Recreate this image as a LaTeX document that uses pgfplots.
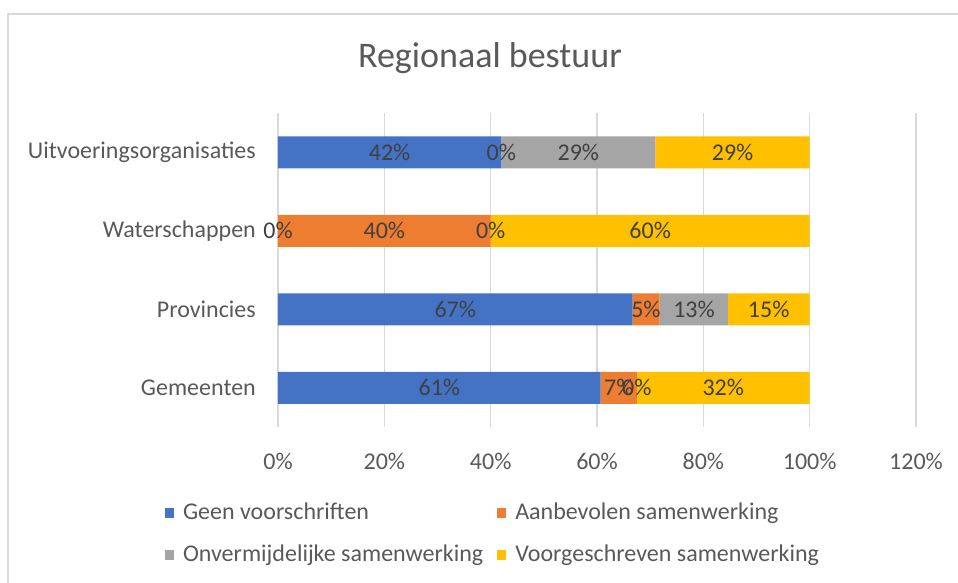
\documentclass[border=0pt]{standalone}
\usepackage{pgfplots}
\pgfplotsset{compat=1.18}
\usepackage{fontspec}
\setmainfont{Carlito}
\definecolor{cblue}{HTML}{4472C4}
\definecolor{corange}{HTML}{ED7D31}
\definecolor{cgray}{HTML}{A5A5A5}
\definecolor{cyellow}{HTML}{FFC000}
\definecolor{gridgray}{HTML}{D9D9D9}
\definecolor{txtgray}{HTML}{595959}
\definecolor{lblgray}{HTML}{404040}
\newcommand{\lf}{\fontsize{24bp}{28bp}\selectfont}
\pgfplotsset{
  mybar/.style={fill=#1, draw=none,
    legend image code/.code={\fill[#1] (0bp,-5bp) rectangle (9bp,5bp);}},
  geom/.style={
    scale only axis, width=638bp, height=314bp,
    xmin=0, xmax=120, ymin=-0.5, ymax=3.5,
  }
}
\begin{document}
\begin{tikzpicture}
\useasboundingbox (-278bp,-156bp) rectangle (680bp,427bp);
\draw[color=gridgray, line width=2bp] (-270bp,-170bp) -- (-270bp,413bp) -- (700bp,413bp);
\node[anchor=base, text=txtgray, inner sep=0pt, font=\fontsize{36bp}{40bp}\selectfont] at (212bp,359bp) {Regionaal bestuur};
\begin{axis}[geom,
  xbar stacked, bar width=32bp,
  axis line style={draw=none}, tick style={draw=none},
  major tick length=0pt,
  xmajorgrids, grid style={gridgray, line width=1.5bp},
  xtick={0,20,40,60,80,100,120},
  xticklabels={0\%,20\%,40\%,60\%,80\%,100\%,120\%},
  ytick={0,1,2,3},
  yticklabels={Gemeenten,Provincies,Waterschappen,Uitvoeringsorganisaties},
  tick label style={font=\lf, text=txtgray, inner sep=0pt},
  xticklabel style={anchor=base, yshift=-42bp},
  yticklabel style={anchor=east, xshift=-22bp},
  legend columns=2,
  legend cell align=left,
  legend style={at={(axis description cs:-0.1771,-0.2357)}, anchor=north west,
    draw=none, fill=none, inner sep=0pt, outer sep=0pt, font=\lf, text=txtgray,
    row sep=18bp,
    nodes={inner sep=0pt, text height=18bp, text depth=6bp},
    /tikz/every odd column/.append style={column sep=9bp},
    /tikz/every even column/.append style={column sep=14bp}},
]
\addplot[mybar=cblue] coordinates {(60.7,0) (66.7,1) (0,2) (42,3)};
\addlegendentry{Geen voorschriften}
\addplot[mybar=corange] coordinates {(6.8,0) (5.1,1) (40,2) (0,3)};
\addlegendentry{Aanbevolen samenwerking}
\addplot[mybar=cgray] coordinates {(0,0) (12.8,1) (0,2) (29,3)};
\addlegendentry{Onvermijdelijke samenwerking}
\addplot[mybar=cyellow] coordinates {(32.5,0) (15.4,1) (60,2) (29,3)};
\addlegendentry{Voorgeschreven samenwerking}
\end{axis}
\begin{axis}[geom, hide axis]
\addplot[draw=none, mark=none, nodes near coords, point meta=explicit symbolic,
  every node near coord/.append style={anchor=center, font=\lf, text=lblgray, inner sep=0pt}]
  coordinates {
  (30.35,0) [61\%] (64.1,0) [7\%] (67.5,0) [0\%] (83.75,0) [32\%]
  (33.35,1) [67\%] (69.2,1) [5\%] (78.25,1) [13\%] (92.3,1) [15\%]
  (0,2) [0\%] (20,2) [40\%] (40,2) [0\%] (70,2) [60\%]
  (21,3) [42\%] (42,3) [0\%] (56.5,3) [29\%] (85.5,3) [29\%]
  };
\end{axis}
\end{tikzpicture}
\end{document}
